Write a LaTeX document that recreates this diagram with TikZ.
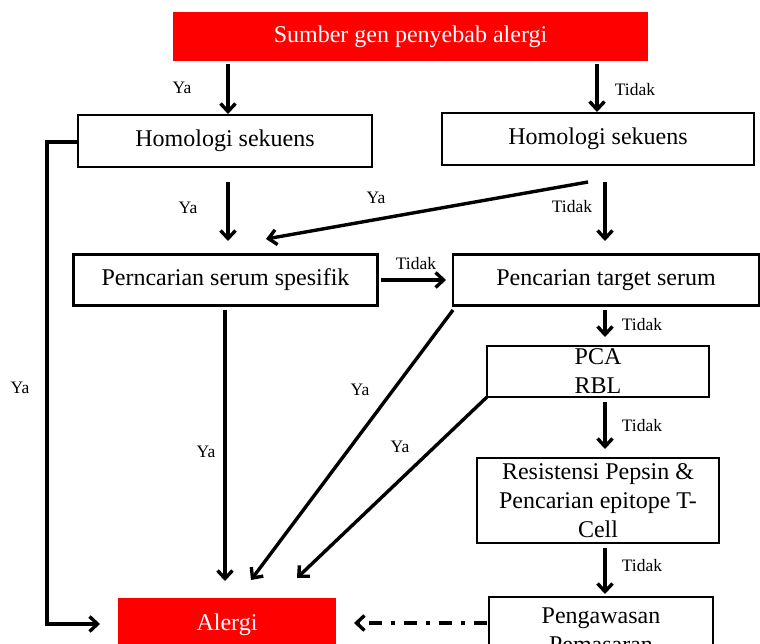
\documentclass[tikz,border=0pt]{standalone}
\usepackage{fontspec}
\setmainfont{Liberation Serif}
\usetikzlibrary{arrows.meta,calc}
\begin{document}
\begin{tikzpicture}[x=1pt,y=-1pt,
  box/.style={draw, line width=2.2pt, inner sep=0pt, align=center,
    font=\fontsize{24}{29}\selectfont},
  redbox/.style={fill=red, text=white, inner sep=0pt, align=center,
    font=\fontsize{24}{29}\selectfont},
  arr/.style={line width=3.4pt, -{Straight Barb[length=8pt,width=15pt,line width=3.4pt]}},
  dasharr/.style={line width=3.4pt, dash pattern=on 13pt off 9pt on 4pt off 9pt,
    -{Straight Barb[length=8pt,width=15pt,line width=3.4pt]}},
  lbl/.style={font=\fontsize{17.5}{20}\selectfont, inner sep=0pt}]
\useasboundingbox (0,0) rectangle (760,644);

% boxes
\node[redbox, minimum width=475pt, minimum height=49pt] (src) at (410.5,36.5) {Sumber gen penyebab alergi};
\node[box, minimum width=294pt, minimum height=52pt] (h1) at (225,141) {Homologi sekuens};
\node[box, minimum width=312pt, minimum height=52pt] (h2) at (598,139) {Homologi sekuens};
\node[box, minimum width=304pt, minimum height=51pt] (p1) at (225.5,280) {Perncarian serum spesifik};
\node[box, minimum width=306pt, minimum height=51pt] (p2) at (606,280) {Pencarian target serum};
\node[box, minimum width=222pt, minimum height=51pt] (pca) at (598,371.5) {\vphantom{Ag}PCA\\RBL};
\node[box, minimum width=242pt, minimum height=85pt] (res) at (598,500.5) {Resistensi Pepsin \&\\Pencarian epitope T-\\Cell};
\node[box, minimum width=224pt, minimum height=66pt, anchor=north] (pm) at (601,596) {Pengawasan\\Pemasaran};
\node[redbox, minimum width=218pt, minimum height=54pt, anchor=north] (al) at (227,598) {Alergi};

% coordinates
\coordinate (a1s) at (228,64);  \coordinate (a1e) at (228,114);
\coordinate (a2s) at (597,64);  \coordinate (a2e) at (597,112);
\coordinate (lc) at (47,142);   \coordinate (lb) at (47,624);  \coordinate (le) at (100,624);
\coordinate (a3s) at (228,182); \coordinate (a3e) at (228,241);
\coordinate (a4s) at (588,182); \coordinate (a4e) at (266,239);
\coordinate (a5s) at (605,182); \coordinate (a5e) at (605,241);
\coordinate (a6s) at (381,280); \coordinate (a6e) at (446,280);
\coordinate (a7s) at (605,310); \coordinate (a7e) at (605,337);
\coordinate (a8s) at (605,402); \coordinate (a8e) at (605,449);
\coordinate (a9s) at (605,548); \coordinate (a9e) at (605,594);
\coordinate (b1s) at (225,310); \coordinate (b1e) at (225,581);
\coordinate (b2s) at (453,310); \coordinate (b2e) at (251,580);
\coordinate (b3s) at (487,397); \coordinate (b3e) at (297,578);
\coordinate (ds) at (487,623);  \coordinate (de) at (354,623);

% connectors
\draw[arr] (a1s) -- (a1e);
\draw[arr] (a2s) -- (a2e);
\draw[arr] (h1.west |- lc) -- (lc) -- (lb) -- (le);
\draw[arr] (a3s) -- (a3e);
\draw[arr] (a4s) -- (a4e);
\draw[arr] (a5s) -- (a5e);
\draw[arr] (a6s) -- (a6e);
\draw[arr] (a7s) -- (a7e);
\draw[arr] (a8s) -- (a8e);
\draw[arr] (a9s) -- (a9e);
\draw[arr] (b1s) -- (b1e);
\draw[arr] (b2s) -- (b2e);
\draw[arr] (b3s) -- (b3e);
\draw[dasharr] (ds) -- (de);

% labels
\node[lbl] (l1) at (182,88) {Ya};
\node[lbl] (l2) at (635,90) {Tidak};
\node[lbl] (l3) at (20,388) {Ya};
\node[lbl] (l4) at (188,208) {Ya};
\node[lbl] (l5) at (376,198) {Ya};
\node[lbl] (l6) at (572,207) {Tidak};
\node[lbl] (l7) at (416,264) {Tidak};
\node[lbl] (l8) at (642,325) {Tidak};
\node[lbl] (l9) at (642,426) {Tidak};
\node[lbl] (l10) at (642,566) {Tidak};
\node[lbl] (l11) at (206,452) {Ya};
\node[lbl] (l12) at (360,390) {Ya};
\node[lbl] (l13) at (400,447) {Ya};
\end{tikzpicture}
\end{document}
